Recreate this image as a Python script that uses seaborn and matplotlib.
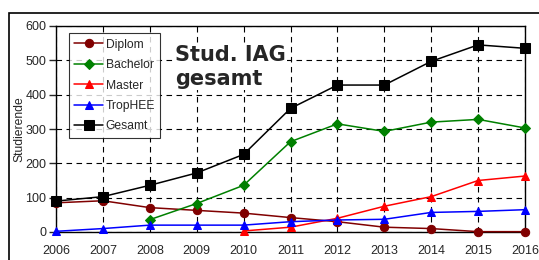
import pandas as pd
import seaborn as sns
import matplotlib.pyplot as plt
from matplotlib.patches import Rectangle

# Jahre und Studierendenzahlen
jahre = [2006, 2007, 2008, 2009, 2010, 2011, 2012, 2013, 2014, 2015, 2016]
diplom = [85, 91, 71, 63, 55, 42, 30, 14, 10, 1, 1]
bachelor = [None, None, 36, 83, 136, 263, 315, 293, 320, 328, 303]
master = [None, None, None, None, 3, 14, 40, 75, 103, 150, 163]
trophee = [2, 10, 20, 20, 20, 30, 35, 37, 57, 60, 65]
gesamt = [90, 103, 136, 172, 226, 360, 428, 428, 497, 545, 535]

serien = [
    ("Diplom", diplom, "#800000", "o", 6.0),
    ("Bachelor", bachelor, "#008000", "D", 4.8),
    ("Master", master, "#ff0000", "^", 6.2),
    ("TropHEE", trophee, "#0000ff", "^", 6.2),
    ("Gesamt", gesamt, "#000000", "s", 6.5),
]

sns.set_style("white")
plt.rcParams["font.family"] = ["Liberation Sans", "DejaVu Sans"]

fig = plt.figure(figsize=(5.39, 2.6), dpi=100)
ax = fig.add_axes([56 / 539, 1 - 232 / 260, (525 - 56) / 539, (232 - 26) / 260])

# Rahmen um die ganze Grafik
fig.patches.append(Rectangle((9 / 539, -0.1), 1.2, 1 - 13 / 260 + 0.1,
                             transform=fig.transFigure, fill=False,
                             edgecolor="black", linewidth=1.2, zorder=0))

for name, werte, farbe, marker, ms in serien:
    df = pd.DataFrame({"jahr": jahre, "wert": werte}).dropna()
    sns.lineplot(data=df, x="jahr", y="wert", ax=ax, color=farbe, marker=marker,
                 markersize=ms, markeredgecolor=farbe, linewidth=1.1, label=name,
                 clip_on=False, zorder=3)

ax.set_xlim(2006, 2016)
ax.set_ylim(0, 600)
ax.set_xticks(jahre)
ax.set_yticks(range(0, 601, 100))
ax.tick_params(axis="both", labelsize=9, pad=2)
ax.tick_params(axis="y", length=5, width=1, direction="out", left=True)
ax.tick_params(axis="x", length=0, pad=9)
ax.grid(True, color="black", linestyle=(0, (5, 4)), linewidth=0.8)
ax.set_xlabel("")
ax.set_ylabel("Studierende", fontsize=8.7, labelpad=0)
for s in ax.spines.values():
    s.set_color("black")
    s.set_linewidth(1)

leg = ax.legend(loc="upper left", bbox_to_anchor=(0.027, 0.965), fontsize=8.7,
                frameon=True, fancybox=False, edgecolor="black", handlelength=2.4,
                handletextpad=0.2, labelspacing=0.7, borderpad=0.45,
                borderaxespad=0)
leg.get_frame().set_linewidth(0.8)

ax.text(0.254, 0.91, "Stud. IAG\ngesamt", transform=ax.transAxes, fontsize=15,
        fontweight="bold", va="top", ha="left", linespacing=1.25,
        family=["DejaVu Sans"], zorder=4,
        bbox=dict(facecolor="white", edgecolor="none", pad=1))

fig.savefig("out.png", dpi=100)
